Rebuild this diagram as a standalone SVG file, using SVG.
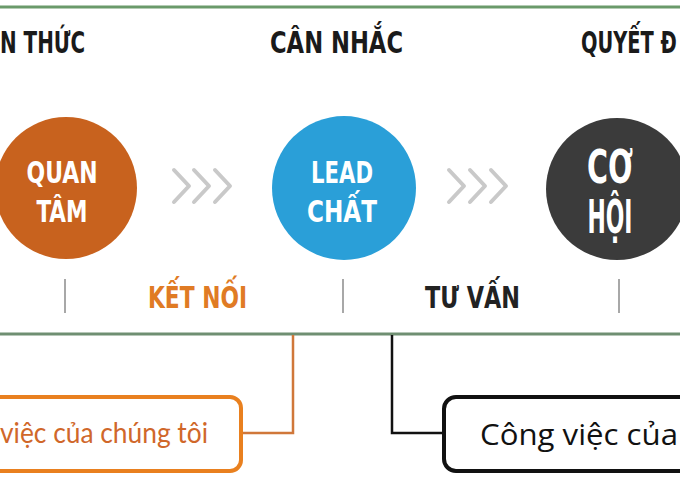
<svg xmlns="http://www.w3.org/2000/svg" width="680" height="480" viewBox="0 0 680 480">
<style>
.hd{font-family:"DejaVu Sans Condensed","DejaVu Sans","Liberation Sans",sans-serif;font-weight:bold;font-size:30px;fill:#1a1a1a}
.ct{font-family:"DejaVu Sans Condensed","DejaVu Sans","Liberation Sans",sans-serif;font-weight:bold;fill:#ffffff;text-anchor:middle}
.lb{font-family:"DejaVu Sans Condensed","DejaVu Sans","Liberation Sans",sans-serif;font-weight:bold;font-size:30px}
.chev{fill:none;stroke:#c9c9c9;stroke-width:4;stroke-linecap:round;stroke-linejoin:round}
.sep{stroke:#a8a8a8;stroke-width:2}
</style>
<rect width="680" height="480" fill="#ffffff"/>
<line x1="0" y1="7" x2="680" y2="7" stroke="#6a9a6a" stroke-width="3"/>
<line x1="0" y1="334" x2="680" y2="334" stroke="#6f8f72" stroke-width="3"/>
<g id="headings">
<text class="hd" x="0" y="53" textLength="85" lengthAdjust="spacingAndGlyphs">N THỨC</text>
<text class="hd" x="270" y="53" textLength="133" lengthAdjust="spacingAndGlyphs">CÂN NHẮC</text>
<text class="hd" transform="translate(581,53) scale(0.72,1)" x="0" y="0">QUYẾT Đ</text>
</g>
<g id="quan-tam">
<circle cx="66" cy="188" r="71" fill="#c8621e"/>
<text class="ct" x="62" y="183" font-size="30" textLength="71" lengthAdjust="spacingAndGlyphs">QUAN</text>
<text class="ct" x="62" y="222" font-size="30" textLength="51" lengthAdjust="spacingAndGlyphs">TÂM</text>
</g>
<g id="lead-chat">
<circle cx="344" cy="188" r="72" fill="#2a9fd8"/>
<text class="ct" x="342" y="183" font-size="30" textLength="62" lengthAdjust="spacingAndGlyphs">LEAD</text>
<text class="ct" x="342" y="222" font-size="30" textLength="70" lengthAdjust="spacingAndGlyphs">CHẤT</text>
</g>
<g id="co-hoi">
<circle cx="617" cy="189" r="71" fill="#3b3b3b"/>
<text class="ct" x="610" y="183" font-size="46" textLength="46" lengthAdjust="spacingAndGlyphs">CƠ</text>
<text class="ct" x="610" y="233" font-size="46" textLength="45" lengthAdjust="spacingAndGlyphs">HỘI</text>
</g>
<g id="chevrons">
<polyline class="chev" points="174,170 189,186 174,202"/>
<polyline class="chev" points="194,170 209,186 194,202"/>
<polyline class="chev" points="215,170 230,186 215,202"/>
<polyline class="chev" points="449,170 464,186 449,202"/>
<polyline class="chev" points="470,170 485,186 470,202"/>
<polyline class="chev" points="491,170 506,186 491,202"/>
</g>
<g id="stage-labels">
<line class="sep" x1="65" y1="279" x2="65" y2="313"/>
<line class="sep" x1="343" y1="279" x2="343" y2="313"/>
<line class="sep" x1="619" y1="279" x2="619" y2="313"/>
<text class="lb" x="148" y="308" fill="#e07b24" textLength="99" lengthAdjust="spacingAndGlyphs">KẾT NỐI</text>
<text class="lb" x="425" y="308" fill="#222222" textLength="95" lengthAdjust="spacingAndGlyphs">TƯ VẤN</text>
</g>
<g id="connectors">
<polyline points="293,335 293,433 242,433" fill="none" stroke="#d0773a" stroke-width="2.5"/>
<polyline points="392,335 392,433 443,433" fill="none" stroke="#111111" stroke-width="2.5"/>
</g>
<g id="box-ours">
<rect x="-30" y="397" width="271" height="74" rx="11" fill="#ffffff" stroke="#e9801f" stroke-width="4"/>
<text x="0" y="443" font-family="Lato,'Open Sans',sans-serif" font-size="29" fill="#d0672a" textLength="208" lengthAdjust="spacingAndGlyphs">việc của chúng tôi</text>
</g>
<g id="box-client">
<rect x="444" y="397" width="260" height="74" rx="12" fill="#ffffff" stroke="#111111" stroke-width="4"/>
<text x="480" y="445" font-family="'Open Sans','Noto Sans',sans-serif" font-size="29" fill="#111111" textLength="198" lengthAdjust="spacingAndGlyphs">Công việc của</text>
</g>
</svg>
